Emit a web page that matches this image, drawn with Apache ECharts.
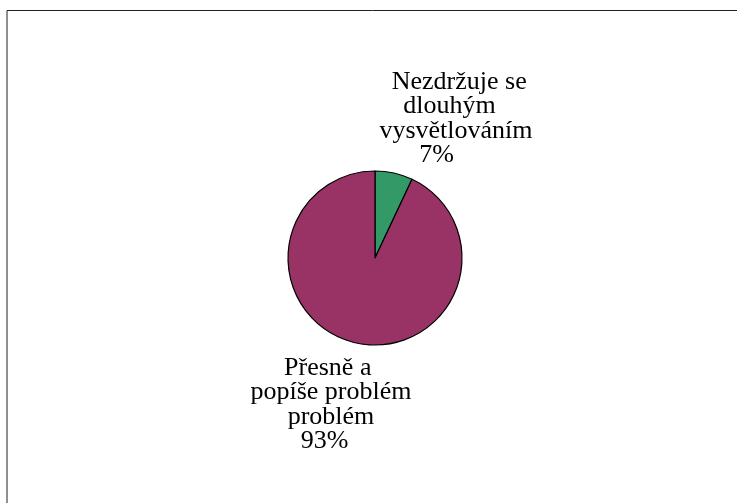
<!DOCTYPE html>
<html>
<head>
<meta charset="utf-8">
<style>
  html, body { margin: 0; padding: 0; background: #fff; }
  #chart { width: 737px; height: 503px; }
</style>
<script src="https://cdn.jsdelivr.net/npm/echarts@6/dist/echarts.min.js"></script>
</head>
<body>
<div id="chart"></div>
<script>
// Answer categories and their shares (percent)
var categories = ['Nezdržuje se\ndlouhým\nvysvětlováním', 'Přesně a\npopíše problém\nproblém'];
var shares = [7, 93];
var sliceColors = ['#339966', '#993366'];

var serifFont = 'Times New Roman, Liberation Serif, serif';
var NBSP = '\u00a0';

function pad(n) { return new Array(n + 1).join(NBSP); }

// Per-line padding nudges each centred line slightly, as in the original layout
var linePads = [
  [[1, 0], [0, 2], [0, 0], [0, 6]],
  [[0, 1], [0, 0], [0, 0], [0, 2]]
];

var chart = echarts.init(document.getElementById('chart'), null, { renderer: 'canvas' });

var pieData = categories.map(function (name, i) {
  return { name: name, value: shares[i], itemStyle: { color: sliceColors[i] } };
});

// Label anchor points (top-centre of each text block)
var labelAnchors = [
  { x: 456, y: 70 },
  { x: 331, y: 356 }
];

chart.setOption({
  animation: false,
  backgroundColor: '#ffffff',
  textStyle: { fontFamily: serifFont },
  graphic: [{
    type: 'rect',
    shape: { x: 7, y: 10.5, width: 800, height: 600 },
    style: { fill: 'none', stroke: '#222', lineWidth: 1 },
    silent: true
  }],
  series: [{
    type: 'pie',
    center: [375, 258],
    radius: [0, 87],
    startAngle: 90,
    clockwise: true,
    avoidLabelOverlap: false,
    data: pieData,
    itemStyle: { borderColor: '#000', borderWidth: 1.2 },
    label: {
      show: true,
      position: 'outside',
      formatter: function (p) {
        var lines = p.name.split('\n').concat([Math.round(p.percent) + '%']);
        var pads = linePads[p.dataIndex];
        return lines.map(function (s, k) {
          var pp = pads[k] || [0, 0];
          return pad(pp[0]) + s + pad(pp[1]);
        }).join('\n');
      },
      fontFamily: serifFont,
      fontSize: 26,
      lineHeight: 24.3,
      color: '#000',
      align: 'center'
    },
    labelLine: { show: false },
    labelLayout: function (params) {
      var a = labelAnchors[params.dataIndex];
      return { x: a.x, y: a.y, align: 'center', verticalAlign: 'top' };
    },
    emphasis: { disabled: true }
  }]
});
</script>
</body>
</html>
